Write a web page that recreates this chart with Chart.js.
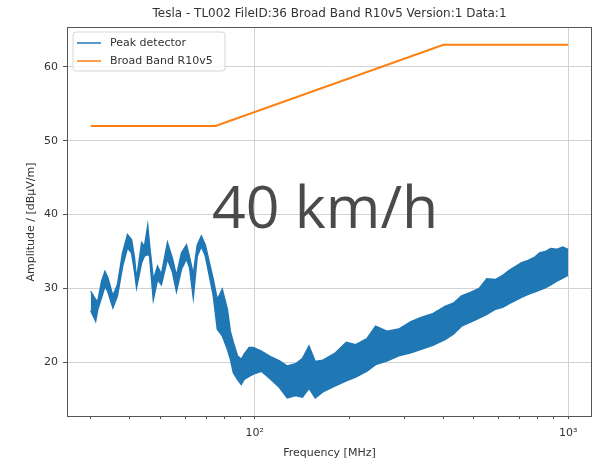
<!DOCTYPE html>
<html>
<head>
    <title>Tesla - TL002 Broad Band R10v5</title>
    <script src="https://cdn.jsdelivr.net/npm/chart.js"></script>
    <style>
        body { margin: 0; background: #fff; }
    </style>
</head>
<body>
    <canvas id="chart" width="601" height="465"></canvas>

    <script>
        // chart text
        var titleText = 'Tesla - TL002 FileID:36 Broad Band R10v5 Version:1 Data:1';
        var overlayText = '40 km/h';

        var freq = [30, 31.1, 31.6, 32.5, 33.3, 34, 35.3, 36.5, 37.9, 39.3, 40.5, 41.4, 42, 43.6, 44.5, 45.6, 46.2,
            47.5, 49, 50.4, 52.7, 54.7, 56.3, 58.4, 60.6, 62, 63.7, 65.6, 67.6, 69.6, 71.7, 73.8, 76, 78.8, 81.8,
            83.7, 85.5, 88.1, 90.6, 92.6, 96, 99, 105, 112, 120, 127, 135, 142, 149, 156, 165, 180, 196, 210, 228,
            243, 265, 288, 315, 341, 370, 406, 430, 457, 490, 520, 550, 586, 620, 650, 680, 710, 745, 780, 810,
            845, 880, 920, 960, 1000];
        var peakHigh = [29.6, 28.5, 28.3, 31.0, 32.3, 31.5, 29.0, 30.5, 34.8, 37.3, 36.6, 34.0, 31.2, 36.2, 35.7, 38.5, 35.9,
            31.2, 33.0, 31.9, 36.2, 34.0, 31.7, 34.8, 35.9, 34.2, 31.9, 35.9, 37.1, 35.9, 33.5, 31.2, 28.5, 29.9, 27.2,
            24.1, 22.7, 20.9, 20.4, 21.1, 22.0, 22.0, 21.5, 20.8, 20.2, 19.5, 19.8, 20.5, 22.2, 20.1, 20.3, 21.2, 22.7, 22.4, 23.2,
            24.9, 24.2, 24.5, 25.5, 26.1, 26.6, 27.6, 28.0, 29.0, 29.5, 30.0, 31.3, 31.2, 31.8, 32.5, 33.0, 33.5, 33.8, 34.2, 34.8,
            35.0, 35.4, 35.3, 35.6, 35.3];
        var peakLow = [27.0, 25.6, 27.2, 28.8, 30.3, 29.6, 27.4, 29.0, 33.0, 35.5, 34.8, 32.2, 30.1, 33.5, 34.4, 34.6, 34.4,
            28.5, 31.2, 30.5, 34.0, 32.2, 29.6, 32.6, 34.0, 32.8, 28.8, 34.4, 35.7, 34.4, 31.7, 29.0, 24.5, 23.6, 21.8,
            20.4, 18.6, 17.7, 17.0, 17.7, 18.1, 18.4, 18.8, 17.8, 16.6, 15.2, 15.5, 15.3, 16.5, 15.2, 16.0, 16.8, 17.5, 18.0, 18.8,
            19.7, 20.2, 20.9, 21.3, 21.8, 22.3, 23.1, 23.8, 24.9, 25.5, 26.0, 26.5, 27.2, 27.5, 28.0, 28.4, 28.8, 29.2, 29.5, 29.8,
            30.1, 30.5, 31.0, 31.4, 31.8];

        // Broad Band R10v5 limit
        var limitFreq = [30, 75, 400, 1000];
        var limitLevel = [52, 52, 63, 63];

        // axis ticks
        var yTicks = [20, 30, 40, 50, 60];
        var xTicks = [30, 40, 50, 60, 70, 80, 90, 100, 200, 300, 400, 500, 600, 700, 800, 900, 1000];
        var xMajor = {100: '10²', 1000: '10³'};

        function points(xs, ys) {
            return xs.map(function (x, i) { return {x: x, y: ys[i]}; });
        }

        Chart.defaults.font.family = '"DejaVu Sans", sans-serif';
        Chart.defaults.font.size = 11;
        Chart.defaults.color = '#333';

        // frame, title, legend inside the axes and the big overlay text
        var extras = {
            id: 'extras',
            afterDraw: function (chart) {
                var ctx = chart.ctx, a = chart.chartArea;
                ctx.save();
                ctx.strokeStyle = '#555';
                ctx.lineWidth = 1;
                ctx.strokeRect(Math.round(a.left) + 0.5, Math.round(a.top) + 0.5,
                    Math.round(a.right - a.left) - 1, Math.round(a.bottom - a.top) - 1);

                ctx.font = '12px "DejaVu Sans"';
                ctx.fillStyle = '#333';
                ctx.textAlign = 'center';
                ctx.textBaseline = 'middle';
                ctx.fillText(titleText, (a.left + a.right) / 2, 14);

                // legend
                var lx = a.left + 6, ly = a.top + 5;
                ctx.fillStyle = 'rgba(255,255,255,0.8)';
                ctx.strokeStyle = '#d6d6d6';
                ctx.beginPath();
                ctx.roundRect(lx, ly, 152, 39, 3);
                ctx.fill();
                ctx.stroke();
                var items = [chart.data.datasets[0], chart.data.datasets[2]];
                ctx.font = '11px "DejaVu Sans"';
                ctx.textAlign = 'left';
                items.forEach(function (ds, i) {
                    var y = ly + 11 + i * 18;
                    ctx.strokeStyle = ds.borderColor;
                    ctx.lineWidth = 1.5;
                    ctx.beginPath();
                    ctx.moveTo(lx + 4, y);
                    ctx.lineTo(lx + 28, y);
                    ctx.stroke();
                    ctx.fillStyle = '#333';
                    ctx.fillText(ds.label, lx + 37, y);
                });

                ctx.font = '59px "Open Sans"';
                ctx.fillStyle = '#4a4a4a';
                ctx.textBaseline = 'alphabetic';
                ctx.fillText(overlayText, 212, 228);
                ctx.restore();
            }
        };

        var ctx = document.getElementById('chart').getContext('2d');
        new Chart(ctx, {
            type: 'line',
            data: {
                datasets: [
                    {
                        label: 'Peak detector',
                        data: points(freq, peakHigh),
                        borderColor: '#1f77b4',
                        backgroundColor: '#1f77b4',
                        borderWidth: 1.5,
                        pointRadius: 0,
                        fill: '+1'
                    },
                    {
                        label: 'Peak detector (low)',
                        data: points(freq, peakLow),
                        borderColor: '#1f77b4',
                        borderWidth: 1.5,
                        pointRadius: 0,
                        fill: false
                    },
                    {
                        label: 'Broad Band R10v5',
                        data: points(limitFreq, limitLevel),
                        borderColor: '#ff7f0e',
                        borderWidth: 2,
                        pointRadius: 0,
                        fill: false
                    }
                ]
            },
            options: {
                responsive: false,
                animation: false,
                layout: { padding: { top: 27, right: 9 } },
                plugins: {
                    legend: { display: false },
                    title: { display: false },
                    tooltip: { enabled: false }
                },
                scales: {
                    x: {
                        type: 'logarithmic',
                        min: 25.2,
                        max: 1191,
                        afterBuildTicks: function (scale) {
                            scale.ticks = xTicks.map(function (v) { return {value: v, major: !!xMajor[v]}; });
                        },
                        afterFit: function (scale) { scale.height = 48; },
                        ticks: {
                            autoSkip: false,
                            maxRotation: 0,
                            padding: 8,
                            color: '#333',
                            callback: function (v) { return xMajor[v] || ''; }
                        },
                        grid: {
                            color: function (c) { return c.tick && xMajor[c.tick.value] ? '#d2d2d2' : 'rgba(0,0,0,0)'; },
                            tickColor: '#555',
                            tickLength: function (c) { return c.tick && xMajor[c.tick.value] ? 4 : 2; },
                            drawTicks: true
                        },
                        border: { display: false },
                        title: {
                            display: true,
                            text: 'Frequency [MHz]',
                            color: '#333',
                            padding: { top: 0, bottom: 5 }
                        }
                    },
                    y: {
                        min: 12.6,
                        max: 65.4,
                        afterBuildTicks: function (scale) {
                            scale.ticks = yTicks.map(function (v) { return {value: v}; });
                        },
                        afterFit: function (scale) { scale.width = 67; },
                        ticks: { padding: 5, color: '#333' },
                        grid: {
                            color: '#d2d2d2',
                            tickColor: '#555',
                            tickLength: 4
                        },
                        border: { display: false },
                        title: {
                            display: true,
                            text: 'Amplitude / [dBμV/m]',
                            color: '#333',
                            padding: { top: 25, bottom: 0 }
                        }
                    }
                }
            },
            plugins: [extras]
        });
    </script>
</body>
</html>
